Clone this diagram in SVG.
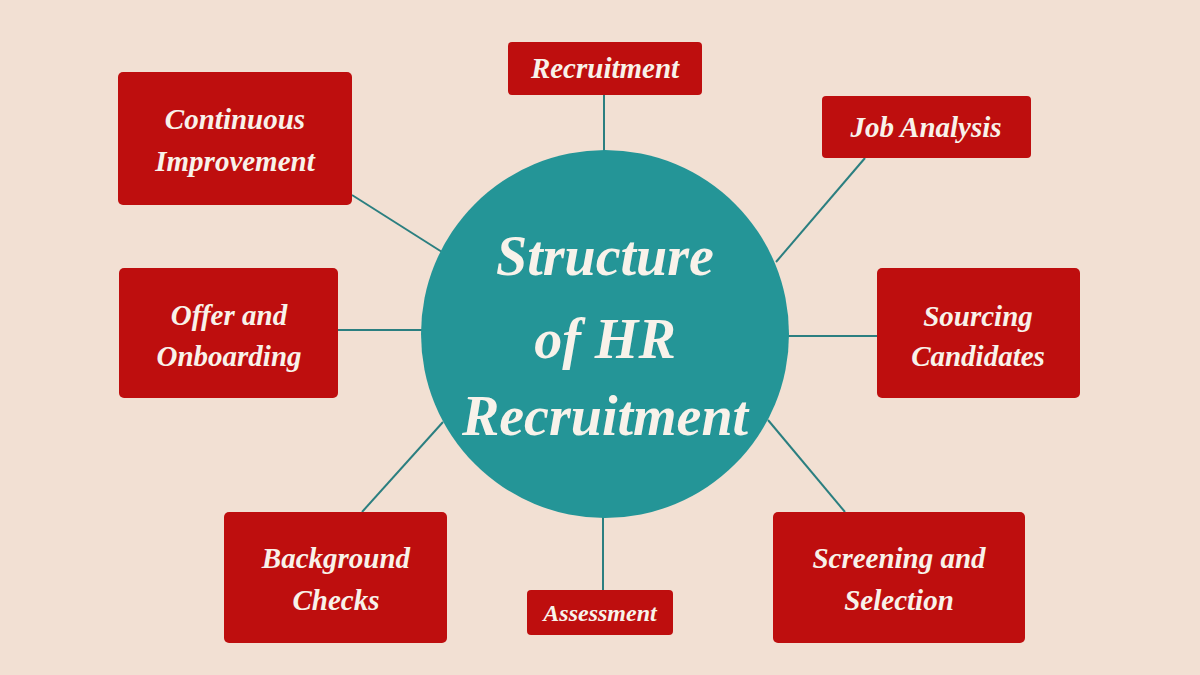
<svg xmlns="http://www.w3.org/2000/svg" width="1200" height="675" viewBox="0 0 1200 675">
<style>
.box{fill:#BE0E0E;}
.lbl{font-family:"Liberation Serif","DejaVu Serif",serif;font-weight:bold;font-style:italic;fill:#F8F2EA;text-anchor:middle;}
.n{font-size:29px;}
.s{font-size:24px;}
.t{font-size:56px;}
.con line{stroke:#2B7F80;stroke-width:2;}
</style>
<rect width="1200" height="675" fill="#F2E0D3"/>
<g class="con">
<line x1="604" y1="95" x2="604" y2="152"/>
<line x1="865" y1="158" x2="776" y2="262"/>
<line x1="786" y1="336" x2="877" y2="336"/>
<line x1="768" y1="420" x2="845" y2="512"/>
<line x1="603" y1="516" x2="603" y2="590"/>
<line x1="443" y1="422" x2="362" y2="512"/>
<line x1="338" y1="330" x2="424" y2="330"/>
<line x1="352" y1="195" x2="442" y2="252"/>
</g>
<g id="center">
<circle cx="605" cy="334" r="184" fill="#249597"/>
<text class="lbl t" x="605" y="275">Structure</text>
<text class="lbl t" x="605" y="358">of HR</text>
<text class="lbl t" x="605" y="435">Recruitment</text>
</g>
<g id="recruitment">
<rect class="box" x="508" y="42" width="194" height="53" rx="4"/>
<text class="lbl n" x="605" y="78">Recruitment</text>
</g>
<g id="job-analysis">
<rect class="box" x="822" y="96" width="209" height="62" rx="4"/>
<text class="lbl n" x="926" y="137">Job Analysis</text>
</g>
<g id="sourcing">
<rect class="box" x="877" y="268" width="203" height="130" rx="5"/>
<text class="lbl n" x="978" y="326">Sourcing</text>
<text class="lbl n" x="978" y="366">Candidates</text>
</g>
<g id="screening">
<rect class="box" x="773" y="512" width="252" height="131" rx="5"/>
<text class="lbl n" x="899" y="568">Screening and</text>
<text class="lbl n" x="899" y="610">Selection</text>
</g>
<g id="assessment">
<rect class="box" x="527" y="590" width="146" height="45" rx="4"/>
<text class="lbl s" x="600" y="621">Assessment</text>
</g>
<g id="background">
<rect class="box" x="224" y="512" width="223" height="131" rx="5"/>
<text class="lbl n" x="336" y="568">Background</text>
<text class="lbl n" x="336" y="610">Checks</text>
</g>
<g id="offer">
<rect class="box" x="119" y="268" width="219" height="130" rx="5"/>
<text class="lbl n" x="229" y="325">Offer and</text>
<text class="lbl n" x="229" y="366">Onboarding</text>
</g>
<g id="continuous">
<rect class="box" x="118" y="72" width="234" height="133" rx="5"/>
<text class="lbl n" x="235" y="129">Continuous</text>
<text class="lbl n" x="235" y="171">Improvement</text>
</g>
</svg>
